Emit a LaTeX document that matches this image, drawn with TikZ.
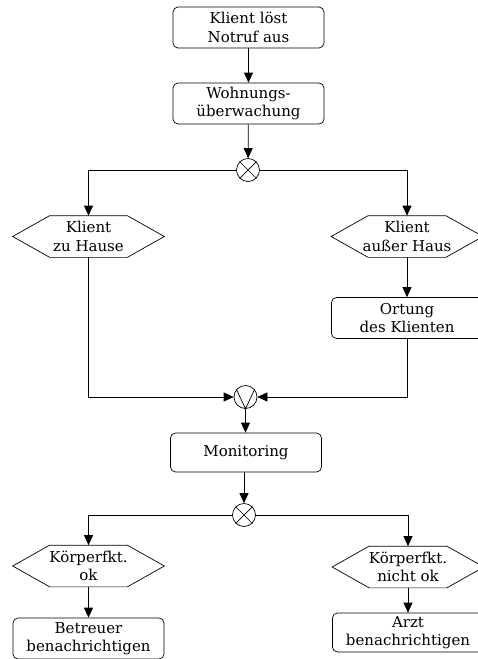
\documentclass[tikz,border=0pt]{standalone}
\usepackage{fontspec}
\setmainfont{DejaVu Serif}
\usetikzlibrary{arrows.meta,calc}

\tikzset{
  every node/.style={font=\fontsize{15}{18.5}\selectfont, align=center, inner sep=0pt},
  procbox/.style={draw, rounded corners=5pt, minimum width=151pt, minimum height=41pt},
  hexbox/.style={minimum width=151pt, minimum height=41pt},
  conn/.style={circle, draw, minimum size=23pt},
  flow/.style={line width=0.7pt, -{Triangle[length=10pt,width=9pt]}},
}

\begin{document}
\begin{tikzpicture}[x=1pt, y=-1pt, line width=0.7pt]
\useasboundingbox (0,0) rectangle (478,659);

% process steps
\node[procbox] (alarm)   at (248.5, 27.5)  {Klient löst\\Notruf aus};
\node[procbox] (watch)   at (248.5, 103.5) {Wohnungs-\\überwachung};
\node[procbox] (locate)  at (407, 318)     {Ortung\\des Klienten};
\node[procbox, minimum height=39pt] (monitor) at (246, 452.5) {Monitoring};
\node[procbox] (carer)   at (88.5, 638.5)  {Betreuer\\benachrichtigen};
\node[procbox, minimum height=39pt] (doctor) at (408, 632.5) {Arzt\\benachrichtigen};

% events (hexagons)
\node[hexbox] (home)  at (88.5, 236.5) {Klient\\zu Hause};
\node[hexbox] (away)  at (407, 236.5)  {Klient\\außer Haus};
\node[hexbox] (ok)    at (88.5, 566)   {Körperfkt.\\ok};
\node[hexbox] (notok) at (408, 567)    {Körperfkt.\\nicht ok};

\foreach \h in {home, away, ok, notok}{
  \draw ($(\h.north west)+(37,0)$) -- ($(\h.north east)+(-37,0)$) -- (\h.east)
     -- ($(\h.south east)+(-37,0)$) -- ($(\h.south west)+(37,0)$) -- (\h.west) -- cycle;
}

% connectors
\node[conn] (xor1) at (248, 170) {};
\node[conn] (or1)  at (245.5, 397) {};
\node[conn] (xor2) at (244, 515) {};
\draw (xor1.north west) -- (xor1.south east) (xor1.north east) -- (xor1.south west);
\draw (xor2.north west) -- (xor2.south east) (xor2.north east) -- (xor2.south west);
\draw (or1.140) -- (or1.south) -- (or1.40);

% control flow
\draw[flow] (alarm) -- (watch);
\draw[flow] (watch) -- (xor1);
\draw[flow] (xor1.west) -| (home.north);
\draw[flow] (xor1.east) -| (away.north);
\draw[flow] (away) -- (locate);
\draw[flow] (home.south) |- (or1.west);
\draw[flow] (locate.south) |- (or1.east);
\draw[flow] (or1) -- (or1 |- monitor.north);
\draw[flow] (monitor.south -| xor2) -- (xor2.north);
\draw[flow] (xor2.west) -| (ok.north);
\draw[flow] (xor2.east) -| (notok.north);
\draw[flow] (ok) -- (carer);
\draw[flow] (notok) -- (doctor);
\end{tikzpicture}
\end{document}
